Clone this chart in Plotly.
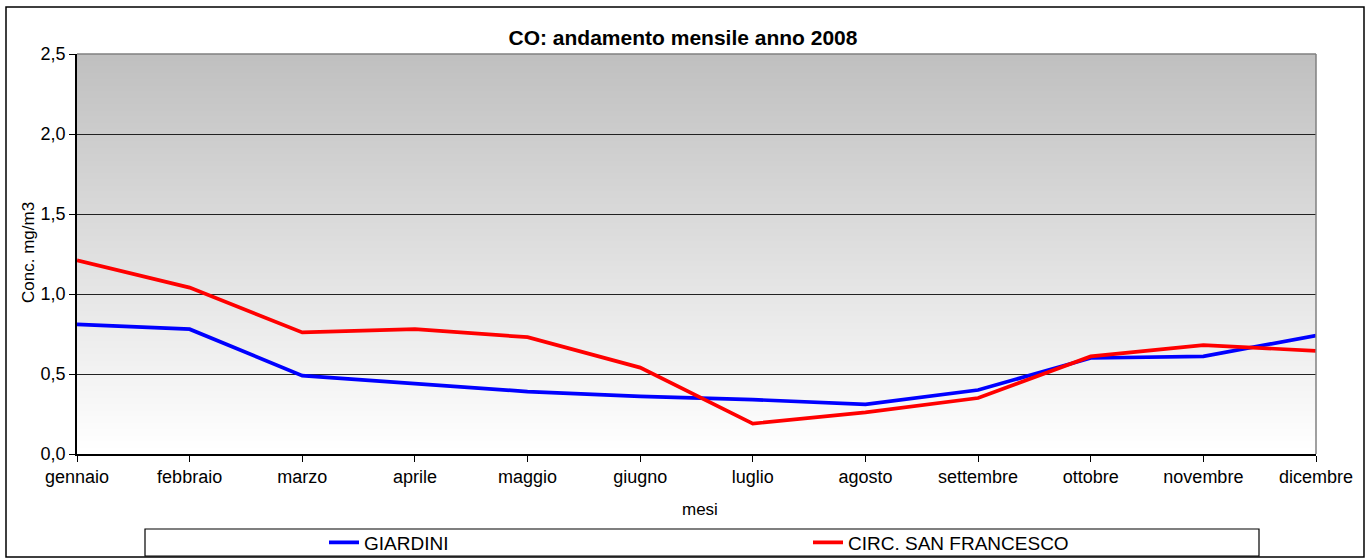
import plotly.graph_objects as go

months = ["gennaio", "febbraio", "marzo", "aprile", "maggio", "giugno",
          "luglio", "agosto", "settembre", "ottobre", "novembre", "dicembre"]
giardini = [0.81, 0.78, 0.49, 0.44, 0.39, 0.36, 0.34, 0.31, 0.40, 0.60, 0.61, 0.74]
san_francesco = [1.21, 1.04, 0.76, 0.78, 0.73, 0.54, 0.19, 0.26, 0.35, 0.61, 0.68, 0.645]

W, H = 1369, 558
L, R, T, B = 77, W - 1316, 54, H - 454
pw, ph = W - L - R, H - T - B

def px(x):
    return (x - L) / pw

def py(y):
    return (H - B - y) / ph

fig = go.Figure()
fig.add_trace(go.Scatter(x=months, y=giardini, mode="lines", name="GIARDINI",
                         line=dict(color="#0000FF", width=3.7)))
fig.add_trace(go.Scatter(x=months, y=san_francesco, mode="lines", name="CIRC. SAN FRANCESCO",
                         line=dict(color="#FF0000", width=3.7)))

shapes = []
# gradient background (overlapping bands, no seams)
n = 64
ymax = 2.5
for i in range(n):
    y0 = ymax * i / n
    t = (i + 0.5) / n
    c = round(255 - 63 * t)
    shapes.append(dict(type="rect", xref="paper", yref="y", x0=0, x1=1, y0=y0, y1=ymax,
                       fillcolor=f"rgb({c},{c},{c})", line=dict(width=0), layer="below"))
# top and right border of plot area (gray)
shapes.append(dict(type="line", xref="paper", yref="paper", x0=0, x1=1, y0=1, y1=1,
                   line=dict(color="#808080", width=1.5)))
shapes.append(dict(type="line", xref="paper", yref="paper", x0=1, x1=1, y0=0, y1=1,
                   line=dict(color="#808080", width=1.5)))
# outer chart border
shapes.append(dict(type="rect", xref="paper", yref="paper", x0=px(6), x1=px(1364),
                   y0=py(557), y1=py(7), line=dict(color="black", width=1.5)))
# legend box
shapes.append(dict(type="rect", xref="paper", yref="paper", x0=px(145), x1=px(1259),
                   y0=py(556), y1=py(529), line=dict(color="black", width=1.2)))

annotations = [
    dict(text="Conc. mg/m3", textangle=-90, xref="paper", yref="paper",
         x=px(28), y=py(252), xanchor="center", yanchor="middle", showarrow=False,
         font=dict(size=17)),
    dict(text="mesi", xref="paper", yref="paper",
         x=px(700), y=py(509), xanchor="center", yanchor="middle", showarrow=False,
         font=dict(size=17)),
]

fig.update_layout(
    width=W, height=H,
    margin=dict(l=L, r=R, t=T, b=B, autoexpand=False),
    paper_bgcolor="white", plot_bgcolor="rgba(0,0,0,0)",
    font=dict(family="Liberation Sans, Arial, sans-serif", size=18, color="black"),
    separators=",.",
    title=dict(text="<b>CO: andamento mensile anno 2008</b>", x=px(683), xref="paper",
               xanchor="center", y=1 - 38 / H, yanchor="middle",
               font=dict(size=21, color="black")),
    xaxis=dict(type="category", range=[0, 11], showgrid=False, showline=True,
               linecolor="black", linewidth=1.5, ticks="outside", ticklen=6,
               tickcolor="black", automargin=False),
    yaxis=dict(range=[0, 2.5], dtick=0.5, tickformat=".1f", showgrid=True,
               gridcolor="#222222", gridwidth=1, showline=True, linecolor="black",
               linewidth=1.5, ticks="outside", ticklen=6, tickcolor="black",
               zeroline=False, automargin=False),
    showlegend=True,
    legend=dict(orientation="h", x=px(324), xanchor="left", y=py(542.5), yanchor="middle",
                bgcolor="rgba(0,0,0,0)", borderwidth=0, font=dict(size=19),
                entrywidth=439, entrywidthmode="pixels", traceorder="normal"),
    shapes=shapes,
    annotations=annotations,
)

fig.write_html("out.html", config={"displayModeBar": False},
               post_script="document.body.style.margin='0';document.body.style.overflow='hidden';")
